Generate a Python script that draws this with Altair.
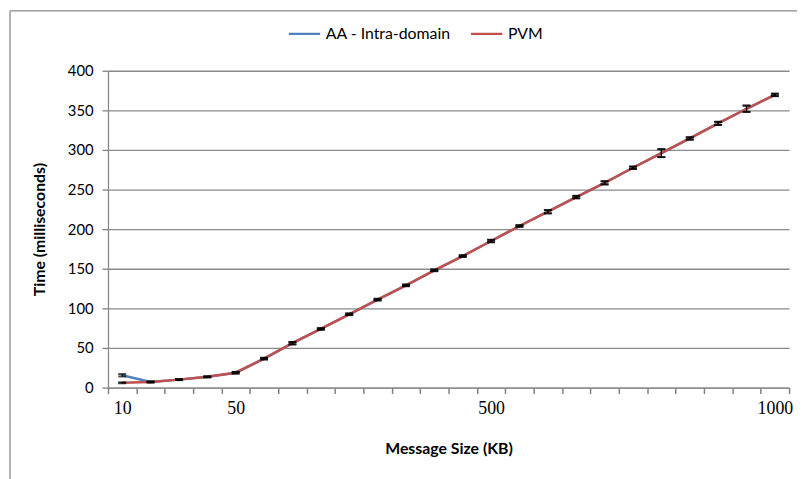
import altair as alt
import pandas as pd

sizes = [10, 20, 30, 40, 50, 100, 150, 200, 250, 300, 350, 400, 450, 500,
         550, 600, 650, 700, 750, 800, 850, 900, 950, 1000]
pvm = [6, 7, 10, 13.5, 18.7, 36.5, 56, 74, 92.5, 111, 129, 148, 166, 185,
       204, 222, 240.5, 258.5, 277.5, 296, 314.5, 333.5, 352, 369.5]
aa = [15.5, 7, 10, 13.5, 18.7, 36.5, 56, 74, 92.5, 111, 129, 148, 166, 185,
      204, 222, 240.5, 258.5, 277.5, 296, 314.5, 333.5, 352, 369.5]
pvm_err = [0.6, 0.6, 0.6, 0.6, 1, 1, 1.5, 1, 1, 1, 1, 1, 1, 1.5,
           1, 2, 1.5, 2, 1.5, 5, 1.5, 2, 4, 1.5]
aa_err = [1.5, 0.6, 0.6, 0.6, 1, 1, 1.5, 1, 1, 1, 1, 1, 1, 1.5,
          1, 2, 1.5, 2, 1.5, 5, 1.5, 2, 4, 1.5]
series_names = ["AA - Intra-domain", "PVM"]
colors = ["#4F81BD", "#C0504D"]
shown_labels = [10, 50, 500, 1000]

rows = []
for name, vals, errs in ((series_names[0], aa, aa_err), (series_names[1], pvm, pvm_err)):
    for i, (s, v, e) in enumerate(zip(sizes, vals, errs)):
        rows.append(dict(series=name, idx=i, size=s, time=v, lo=v - e, hi=v + e))
df = pd.DataFrame(rows)

PLOT_W, PLOT_H = 688, 320
band_px = PLOT_W / len(sizes)

# ticks sit on the category boundaries; labels are shifted half a band to the centre
tick_vals = [i - 0.5 for i in range(len(sizes) + 1)]
label_expr = " : ".join(
    f"datum.value == {sizes.index(v) - 0.5} ? '{v}'" for v in shown_labels) + " : ''"

GRAY = "#8a8a8a"

x_axis = alt.Axis(
    values=tick_vals, labelExpr=label_expr, grid=False, ticks=True,
    labelOffset=band_px / 2,
    labelOverlap=False, labelFlush=False, labelBound=False,
    labelFont="Liberation Serif", labelFontSize=18, labelPadding=6, labelColor="black",
    tickSize=6, tickColor="#808080", tickWidth=1.5, domainColor=GRAY, domainWidth=1.3,
    titleFont="Lato", titleFontWeight="bold", titleFontSize=16, titleColor="black",
    titleX=344, titleY=62, titleBaseline="middle",
)
x_scale = alt.Scale(domain=[-0.5, len(sizes) - 0.5], nice=False, zero=False)
X_TITLE = "Message Size (KB)"

y_axis = alt.Axis(
    values=list(range(0, 401, 50)), grid=True, gridColor=GRAY, gridWidth=1.3,
    domainColor=GRAY, domainWidth=1.3, tickColor="#808080", tickWidth=1.3, tickSize=6,
    labelOverlap=False,
    labelFont="Lato", labelFontSize=15, labelPadding=9, labelColor="black",
    titleFont="Lato", titleFontWeight="bold", titleFontSize=16, titleColor="black",
    titleX=-69, titleY=160, titleAngle=-90, titleAlign="center", titleBaseline="middle",
)
y_scale = alt.Scale(domain=[0, 400], nice=False)
Y_TITLE = "Time (milliseconds)"


def X():
    return alt.X("idx:Q", scale=x_scale, axis=x_axis, title=X_TITLE)


def Yf(field):
    return alt.Y(field, scale=y_scale, axis=y_axis, title=Y_TITLE)


color_enc = alt.Color(
    "series:N",
    scale=alt.Scale(domain=series_names, range=colors),
    legend=alt.Legend(
        title=None, orient="none", legendX=181, legendY=-55, direction="horizontal",
        symbolType="stroke", symbolSize=1000, symbolStrokeWidth=2.5,
        labelFont="Lato", labelFontSize=16, labelColor="black", columnPadding=14,
        padding=0,
    ),
)

base = alt.Chart(df)

line_aa = base.transform_filter(alt.datum.series == series_names[0]).mark_line(strokeWidth=2.5).encode(
    x=X(), y=Yf("time:Q"), color=color_enc)
line_pvm = base.transform_filter(alt.datum.series == series_names[1]).mark_line(strokeWidth=2.5).encode(
    x=X(), y=Yf("time:Q"), color=color_enc)

err_rule = base.mark_rule(color="black", strokeWidth=1.2).encode(
    x=X(), y=Yf("lo:Q"), y2="hi:Q")
cap_lo = base.mark_tick(color="black", thickness=2, size=8, orient="horizontal").encode(
    x=X(), y=Yf("lo:Q"))
cap_hi = base.mark_tick(color="black", thickness=2, size=8, orient="horizontal").encode(
    x=X(), y=Yf("hi:Q"))

frame_data = alt.InlineData(values=[{"k": 1}])
border_left = alt.Chart(frame_data).mark_rule(color=GRAY, strokeWidth=1.3).encode(
    x=alt.value(-99), y=alt.value(-60.5), y2=alt.value(420))
border_top = alt.Chart(frame_data).mark_rule(color=GRAY, strokeWidth=1.3).encode(
    x=alt.value(-99), x2=alt.value(700), y=alt.value(-60.5))

chart = alt.layer(
    border_left, border_top, line_aa, line_pvm, err_rule, cap_lo, cap_hi
).properties(
    width=PLOT_W, height=PLOT_H,
    padding={"left": 101, "top": 61, "right": 8, "bottom": 90},
    autosize=alt.AutoSizeParams(type="none"),
    background="white",
).configure_view(stroke=None)

chart.save("out.html", embed_options={"renderer": "svg", "actions": False})
